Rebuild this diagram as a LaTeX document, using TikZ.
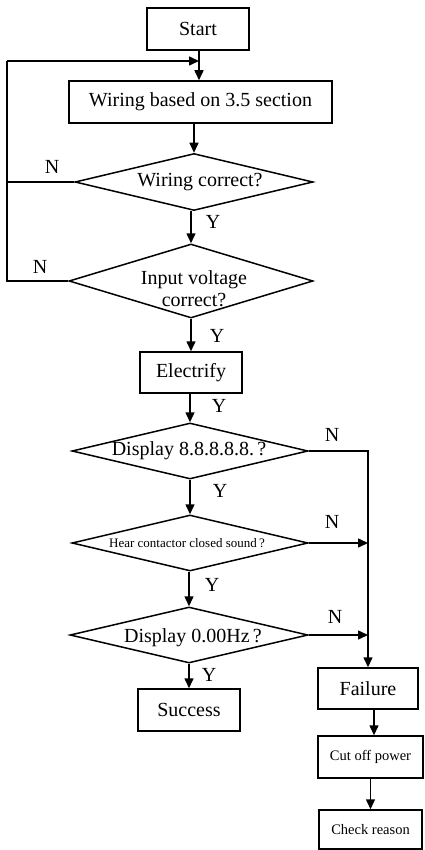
\documentclass[tikz,border=0pt]{standalone}
\usepackage{fontspec}
\setmainfont{Liberation Serif}
\usetikzlibrary{shapes.geometric,arrows.meta,calc}
\begin{document}
\begin{tikzpicture}[x=1pt,y=-1pt,
  every node/.style={font=\fontsize{20}{22}\selectfont},
  box/.style={draw,line width=1.5pt,inner sep=0pt},
  dia/.style={draw,line width=1.5pt,shape=diamond,inner sep=0pt},
  lbl/.style={inner sep=0pt},
  ln/.style={line width=1.5pt},
  arr/.style={line width=1.5pt,-{Triangle[length=10pt,width=9pt]}},
  small/.style={font=\fontsize{13}{15}\selectfont},
  mid/.style={font=\fontsize{14.5}{16}\selectfont}]
\useasboundingbox (0,0) rectangle (424,850);
% boxes
\node[box,minimum width=102,minimum height=42] (start) at (198,29) {Start};
\node[box,minimum width=263,minimum height=42] (wiring) at (200.5,102) {Wiring based on 3.5 section};
\node[dia,minimum width=238,minimum height=57] (d1) at (194,182) {};
\node[lbl] (t1) at (200,182) {Wiring correct?};
\node[dia,minimum width=244,minimum height=74] (d2) at (191,281) {};
\node[lbl,align=center] (t2) at (194,289) {Input voltage\\correct?};
\node[box,minimum width=102,minimum height=41] (elec) at (191,372.5) {Electrify};
\node[dia,minimum width=236,minimum height=56] (d3) at (190,451) {};
\node[lbl] (t3) at (189,451) {Display 8.8.8.8.8.\,?};
\node[dia,minimum width=236,minimum height=56] (d4) at (190,543) {};
\node[lbl,small] (t4) at (187,543) {Hear contactor closed sound\,?};
\node[dia,minimum width=238,minimum height=56] (d5) at (189,635) {};
\node[lbl] (t5) at (193,638) {Display 0.00Hz\,?};
\node[box,minimum width=102,minimum height=42] (succ) at (189,710) {Success};
\node[box,minimum width=100,minimum height=41] (fail) at (368,688.5) {Failure};
\node[box,mid,minimum width=105,minimum height=42] (cut) at (370.5,757) {Cut off power};
\node[box,mid,minimum width=103,minimum height=39] (check) at (370.5,829.5) {Check reason};
% loop coordinates
\coordinate (loopTop) at (7,61);
\coordinate (join) at (199,61);
% connectors
\draw[arr] (start.south -| join) -- (join |- wiring.north);
\draw[arr] (wiring.south -| d1.north) -- (d1.north);
\draw[arr] (d1.south -| d2.north) -- (d2.north);
\draw[arr] (d2.south) -- (elec.north);
\draw[arr] (elec.south -| d3.north) -- (d3.north);
\draw[arr] (d3.south) -- (d4.north);
\draw[arr] (d4.south -| d5.north) -- (d5.north);
\draw[arr] (d5.south) -- (succ.north);
\draw[ln] (d2.west) -| (loopTop);
\draw[arr] (loopTop) -- (join);
\draw[ln] (d1.west) -- (d1.west -| loopTop);
\draw[arr] (d3.east) -| (fail.north);
\draw[arr] (d4.east) -- (d4.east -| fail.north);
\draw[arr] (d5.east) -- (d5.east -| fail.north);
\draw[arr] ([xshift=6pt]fail.south) -- ([xshift=6pt]fail.south |- cut.north);
\draw[arr] (cut.south -| check.north) -- (check.north);
% labels
\node[lbl] (n1) at (52,167) {N};
\node[lbl] (y1) at (213,222) {Y};
\node[lbl] (n2) at (40,267) {N};
\node[lbl] (y2) at (217,336) {Y};
\node[lbl] (y3) at (219,406) {Y};
\node[lbl] (n3) at (332,435) {N};
\node[lbl] (y4) at (220,491) {Y};
\node[lbl] (n4) at (332,522) {N};
\node[lbl] (y5) at (212,585) {Y};
\node[lbl] (n5) at (335,617) {N};
\node[lbl] (y6) at (209,675) {Y};
\end{tikzpicture}
\end{document}
